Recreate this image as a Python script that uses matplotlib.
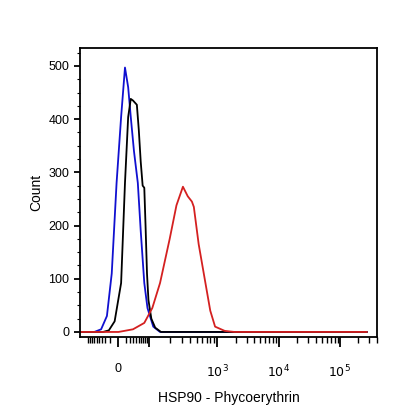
import numpy as np
import matplotlib
matplotlib.use('Agg')
import matplotlib.pyplot as plt

plt.rcParams['font.family'] = ['Liberation Sans', 'DejaVu Sans']

# x in display channel units (0..297), counts on y
blue_x = [0, 15, 22, 28, 33, 38, 42.7, 46.7, 50, 52.7, 56, 60, 63, 66.7, 70, 76, 83, 297]
blue_y = [0, 0, 5, 30, 110, 280, 404, 497, 460, 404, 340, 280, 190, 92, 45, 10, 0, 0]
black_x = [0, 24, 30, 36, 42.7, 46.7, 50, 52.7, 55, 59, 61, 63, 65, 66.7, 68, 69.5, 71, 74, 78, 84, 297]
black_y = [0, 0, 3, 20, 92, 280, 404, 438, 435, 427, 380, 320, 275, 271, 200, 110, 60, 25, 8, 0, 0]
red_x = [0, 40, 55, 66.7, 75, 83, 93, 100, 106.7, 111.7, 116, 118, 123, 130, 135, 140, 150, 160, 297]
red_y = [0, 0, 5, 17, 45, 92, 175, 238, 273, 255, 245, 235, 165, 92, 40, 10, 2, 0, 0]

major_pos = [39, 72, 142, 206, 269]
major_lab = ['0', '', '$10^3$', '$10^4$', '$10^5$']

fig = plt.figure(figsize=(4.16, 4.16), dpi=100)
ax = fig.add_axes([0.192, 0.19, 0.714, 0.695])
ax.plot(blue_x, blue_y, color='#1010d0', lw=1.3)
ax.plot(black_x, black_y, color='black', lw=1.3)
ax.plot(red_x, red_y, color='#d42020', lw=1.3)

ax.set_xlim(0, 297)
ax.set_ylim(-9.4, 534)

minor = []
for k in range(1, 10):
    d = 33 * (k / 10) ** 0.6
    minor += [39 - d, 39 + d]
for base in (72, 142, 206):
    span = 70 if base == 72 else 64
    minor += [base + span * np.log10(k) for k in range(2, 10)]
minor += [269 + 64 * np.log10(k) for k in range(2, 5)]
ax.set_xticks(major_pos)
ax.set_xticklabels(major_lab)
ax.set_xticks(minor, minor=True)
ax.set_yticks([0, 100, 200, 300, 400, 500])
ax.set_yticks(np.arange(0, 534, 25), minor=True)

for s in ax.spines.values():
    s.set_linewidth(1.3)
ax.tick_params(axis='x', which='major', length=7, width=1.3, pad=12, labelsize=9)
ax.tick_params(axis='x', which='minor', length=4, width=1)
ax.tick_params(axis='y', which='major', length=4, width=1.3, labelsize=9)
ax.tick_params(axis='y', which='minor', length=2, width=0.8)

ax.set_xlabel('HSP90 - Phycoerythrin', fontsize=10, labelpad=8)
ax.set_ylabel('Count', fontsize=10)

fig.savefig('out.png', dpi=100)
